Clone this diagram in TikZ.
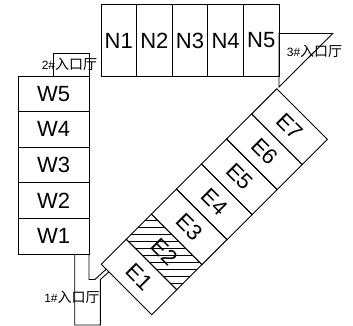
\documentclass[tikz,border=0pt]{standalone}
\usepackage{fontspec}
\setmainfont{Liberation Sans}
\newfontfamily\cjk{Noto Sans CJK SC}
\tikzset{
    room-box/.style = {draw, rectangle, line width=0.9pt, outer sep=0pt, inner sep=0pt, font=\fontsize{22}{23}\selectfont},
    hall-label/.style = {inner sep=0pt, font=\fontsize{12}{13}\selectfont},
    hall-line/.style = {draw, line width=0.9pt, line join=miter},
}
\newcommand{\hallname}[1]{#1\#{\cjk\fontsize{14}{14}\selectfont 入口厅}}

\begin{document}
\begin{tikzpicture}[x=1pt,y=-1pt]
\useasboundingbox (0,0) rectangle (353,326);
% north wing
\foreach \i in {1,...,5}
    \node [room-box, minimum width=35.6pt, minimum height=71.5pt] (N\i) at ({101+(\i-.5)*35.6},40.5) {N\i};
% west wing
\foreach \i in {1,...,5}
    \node [room-box, minimum width=71pt, minimum height=35.6pt] (W\i) at (53.5,{254-(\i-.5)*35.6}) {W\i};
% east wing, hatching first
\foreach \i in {1,...,7}
    \node [room-box, rotate=-45, minimum width=71.5pt, minimum height=35.5pt] (E\i) at ({139+(\i-1)*25.08},{277-(\i-1)*25.05}) {E\i};
\begin{scope}
    \clip (E2.north west) -- (E2.north east) -- (E2.south east) -- (E2.south west) -- cycle;
    \foreach \y in {0,...,11}
        \draw [line width=0.8pt] (115,{220.7+\y*7}) -- (200,{220.7+\y*7});
\end{scope}
% halls
\node [hall-line, rectangle, outer sep=0pt, minimum width=35.5pt, minimum height=23pt] (hall2) at (71.3,64.5) {};
\coordinate (tri-a) at (279,33.5);
\coordinate (tri-b) at (332.7,33.5);
\coordinate (tri-c) at (279,87);
\draw [hall-line] (tri-a) -- (tri-b) -- (tri-c) -- cycle;
\coordinate (bend-a) at (95,279.5);
\coordinate (bend-b) at (100.3,279.5);
\coordinate (join-a) at (106,269.3);
\coordinate (join-b) at (109,271.8);
\draw [hall-line] (W1.south east) -- (89,279.5) -- (bend-a) -- (join-a);
\draw [hall-line] (74.7,254) -- (74.7,325) -- (100.3,325) -- (bend-b) -- (join-b);
% labels
\node [hall-label] (label1) at (72,297) {\hallname{1}};
\node [hall-label] (label2) at (69.5,64) {\hallname{2}};
\node [hall-label] (label3) at (314.5,51.5) {\hallname{3}};
\end{tikzpicture}
\end{document}
